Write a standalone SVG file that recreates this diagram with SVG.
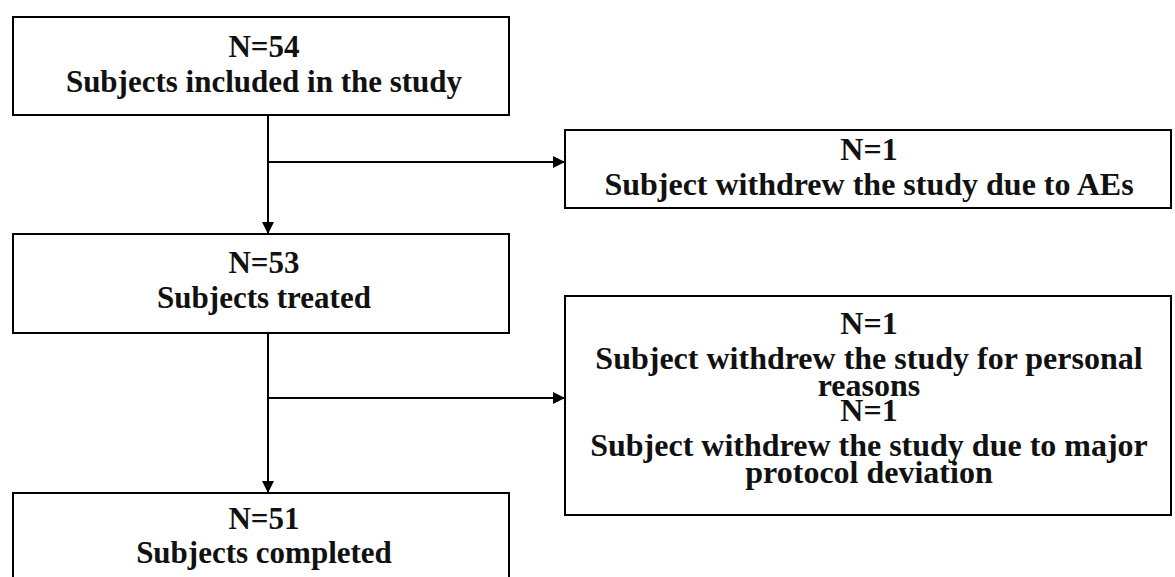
<svg xmlns="http://www.w3.org/2000/svg" width="1175" height="577" viewBox="0 0 1175 577">
<style>
.box{fill:#fff;stroke:#000;stroke-width:2}
.t{font-family:"Liberation Serif","Times New Roman",serif;font-weight:bold;font-size:31px;fill:#111;text-anchor:middle}
.r{font-size:32px}
.c{stroke:#000;stroke-width:2;fill:none}
</style>
<defs>
<marker id="ah" markerWidth="12" markerHeight="12" refX="11" refY="6" orient="auto" markerUnits="userSpaceOnUse" viewBox="0 0 12 12">
<path d="M0,0 L12,6 L0,12 z" fill="#000"/>
</marker>
</defs>
<rect width="1175" height="577" fill="#fff"/>
<g id="connectors">
<line class="c" x1="268" y1="115" x2="268" y2="233" marker-end="url(#ah)"/>
<line class="c" x1="268" y1="162" x2="564" y2="162" marker-end="url(#ah)"/>
<line class="c" x1="268" y1="333" x2="268" y2="492" marker-end="url(#ah)"/>
<line class="c" x1="268" y1="398" x2="564" y2="398" marker-end="url(#ah)"/>
</g>
<g id="n54">
<rect class="box" x="13" y="17" width="496" height="98"/>
<text class="t" x="264" y="57">N=54</text>
<text class="t" x="264" y="92">Subjects included in the study</text>
</g>
<g id="ae">
<rect class="box" x="565" y="130" width="606" height="78"/>
<text class="t r" x="869" y="160">N=1</text>
<text class="t r" x="869" y="195">Subject withdrew the study due to AEs</text>
</g>
<g id="n53">
<rect class="box" x="13" y="234" width="496" height="99"/>
<text class="t" x="264" y="273">N=53</text>
<text class="t" x="264" y="308">Subjects treated</text>
</g>
<g id="withdraw2">
<rect class="box" x="565" y="296" width="606" height="219"/>
<text class="t r" x="869" y="334">N=1</text>
<text class="t r" x="869" y="369">Subject withdrew the study for personal</text>
<text class="t r" x="869" y="396">reasons</text>
<text class="t r" x="869" y="421">N=1</text>
<text class="t r" x="869" y="456">Subject withdrew the study due to major</text>
<text class="t r" x="869" y="483">protocol deviation</text>
</g>
<g id="n51">
<rect class="box" x="13" y="493" width="496" height="95"/>
<text class="t" x="264" y="529">N=51</text>
<text class="t" x="264" y="563">Subjects completed</text>
</g>
</svg>
